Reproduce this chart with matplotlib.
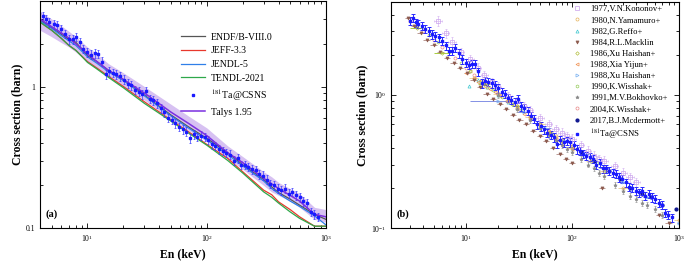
"""
181Ta(n,g) capture cross section: evaluations vs. CSNS data (a), and vs. earlier measurements (b).
"""

import matplotlib
matplotlib.use("Agg")
import matplotlib.pyplot as plt
from matplotlib.ticker import FuncFormatter, LogLocator, NullFormatter

plt.rcParams["font.family"] = ["Liberation Serif", "DejaVu Serif"]
plt.rcParams["mathtext.fontset"] = "stix"

# ---- evaluations (panel a) ----
EVAL_E = [4, 5, 6, 7, 8, 10, 12, 15, 20, 30, 50, 70, 100, 150, 200, 300, 350, 400, 500, 600, 800, 1000]
ENDF = [2.95, 2.6, 2.35, 2.15, 2.05, 1.65, 1.5, 1.3, 1.12, 0.87, 0.63, 0.52, 0.43, 0.34, 0.28, 0.22,
        0.195, 0.178, 0.16, 0.145, 0.125, 0.115]
JEFF = [2.85, 2.5, 2.2, 1.95, 1.8, 1.5, 1.35, 1.18, 1.0, 0.78, 0.58, 0.48, 0.39, 0.31, 0.25, 0.185,
        0.172, 0.153, 0.135, 0.12, 0.103, 0.103]
JENDL = [2.9, 2.58, 2.3, 2.1, 1.95, 1.62, 1.46, 1.27, 1.1, 0.86, 0.62, 0.51, 0.42, 0.33, 0.275, 0.215,
         0.19, 0.175, 0.155, 0.142, 0.122, 0.105]
TENDL = [2.85, 2.5, 2.2, 1.95, 1.8, 1.48, 1.33, 1.16, 0.98, 0.76, 0.57, 0.47, 0.385, 0.30, 0.245, 0.18,
         0.165, 0.15, 0.13, 0.117, 0.103, 0.103]
TALYS = [3.0, 2.65, 2.4, 2.2, 2.0, 1.7, 1.5, 1.3, 1.12, 0.9, 0.66, 0.55, 0.45, 0.34, 0.29, 0.225,
         0.205, 0.19, 0.17, 0.155, 0.125, 0.12]
TALYS_LO = [2.5, 2.25, 2.05, 1.9, 1.75, 1.5, 1.35, 1.17, 1.0, 0.8, 0.59, 0.49, 0.41, 0.31, 0.26, 0.2,
            0.18, 0.17, 0.155, 0.14, 0.115, 0.11]
TALYS_HI = [3.4, 3.0, 2.7, 2.45, 2.25, 1.9, 1.7, 1.45, 1.25, 1.0, 0.75, 0.62, 0.51, 0.38, 0.32, 0.25,
            0.23, 0.21, 0.19, 0.175, 0.14, 0.135]

# ---- 181Ta@CSNS ----
CSNS_E = [3.0, 3.2, 3.4, 3.6, 3.9, 4.2, 4.5, 4.8, 5.2, 5.6, 6.0, 6.5, 7.0, 7.5, 8.0, 8.6, 9.2, 10.0,
          10.7, 11.5, 12.3, 13.2, 14.2, 15.2, 16.3, 17.5, 18.8, 20.2, 21.7, 23.3, 25.0, 26.8, 28.8,
          30.9, 33.2, 35.6, 38.2, 41.0, 44.0, 47.2, 50.7, 54.4, 58.4, 62.7, 67.3, 72.2, 77.5, 83.2,
          89.3, 95.9, 103, 110, 118, 127, 136, 146, 157, 168, 181, 194, 208, 223, 240, 257, 276, 296,
          318, 341, 366, 393, 422, 453, 486, 522, 560, 601, 645, 692, 743, 797, 856]
CSNS_XS = [3.6, 3.8, 3.5, 3.4, 3.3, 3.15, 3.0, 2.85, 2.75, 2.7, 2.55, 2.35, 2.15, 2.15, 2.25, 2.05,
           1.85, 1.75, 1.68, 1.72, 1.70, 1.50, 1.22, 1.28, 1.25, 1.22, 1.18, 1.12, 1.05, 1.02, 0.95,
           0.92, 0.88, 0.93, 0.82, 0.80, 0.76, 0.70, 0.66, 0.60, 0.58, 0.55, 0.52, 0.50, 0.48, 0.43,
           0.46, 0.44, 0.45, 0.44, 0.42, 0.39, 0.38, 0.36, 0.35, 0.34, 0.33, 0.30, 0.31, 0.28, 0.28,
           0.27, 0.26, 0.255, 0.24, 0.235, 0.22, 0.205, 0.20, 0.19, 0.185, 0.19, 0.175, 0.18, 0.17,
           0.165, 0.155, 0.15, 0.13, 0.125, 0.12]
CSNS_REL_ERR = 0.07

# ---- earlier measurements (panel b) ----
KONONOV_E = [5.5, 6.5, 7.5, 9, 11, 13, 15, 17.5, 20, 25, 30, 35, 40, 50, 60, 70, 80, 90, 100, 120,
             140, 160, 180, 200, 250, 300, 350, 400]
KONONOV_XS = [3.6, 2.9, 2.5, 2.1, 1.85, 1.6, 1.4, 1.25, 1.15, 0.98, 0.9, 0.82, 0.77, 0.67, 0.6, 0.55,
              0.52, 0.49, 0.47, 0.42, 0.38, 0.35, 0.33, 0.32, 0.29, 0.26, 0.24, 0.22]
YAMAMURO_E = [12, 16, 20, 25, 30, 40, 50, 60, 70, 80, 100, 150, 200, 300, 1000]
YAMAMURO_XS = [1.35, 1.15, 1.02, 0.9, 0.82, 0.68, 0.6, 0.53, 0.49, 0.45, 0.4, 0.32, 0.27, 0.2, 0.115]
REFFO_E = [10.8, 13, 16, 20, 25, 30, 40, 50, 60, 80, 100, 150, 200]
REFFO_XS = [1.17, 1.3, 1.15, 1.0, 0.88, 0.8, 0.67, 0.58, 0.52, 0.45, 0.4, 0.32, 0.27]
MACKLIN_E = [2.9, 3.3, 3.8, 4.3, 5.0, 5.8, 6.7, 7.7, 8.9, 10.3, 11.9, 13.7, 15.8, 18.2, 21, 24, 28,
             32, 37, 43, 50, 57, 66, 76, 88, 100, 190, 650, 800]
MACKLIN_XS = [3.8, 3.3, 2.9, 2.6, 2.35, 2.1, 1.9, 1.75, 1.6, 1.45, 1.3, 1.15, 1.02, 0.93, 0.85, 0.78,
              0.71, 0.65, 0.6, 0.54, 0.49, 0.45, 0.4, 0.36, 0.33, 0.31, 0.2, 0.125, 0.11]
XU86_E = [3.5, 6.0, 15, 30, 60]
XU86_XERR = [0.5, 1.0, 2.0, 3.0, 5.0]
XU86_XS = [3.2, 2.07, 1.2, 0.82, 0.52]
XIA_E = [10, 11, 12, 13, 14, 15, 17, 19, 21, 24, 27, 30, 35, 40, 50, 60, 70, 80, 100]
XIA_XS = [1.45, 1.5, 1.35, 1.25, 1.3, 1.2, 1.1, 1.05, 0.98, 0.9, 0.85, 0.78, 0.72, 0.66, 0.58, 0.52,
          0.47, 0.43, 0.39]
XU88_E = [20, 35, 55, 85, 130, 200, 300, 500, 1000]
XU88_XERR = [9.0, 5.0, 8.0, 10.0, 15.0, 20.0, 30.0, 40.0, 40.0]
XU88_XS = [0.9, 0.75, 0.56, 0.45, 0.36, 0.28, 0.22, 0.17, 0.11]
WISSHAK90_E = [3.5, 4.5, 5.5, 7, 9, 11, 14, 18, 22, 27, 33, 40, 50, 65, 80, 100, 130, 170, 200]
WISSHAK90_XS = [3.3, 2.8, 2.5, 2.1, 1.75, 1.5, 1.25, 1.08, 0.97, 0.86, 0.77, 0.68, 0.6, 0.51, 0.46,
                0.41, 0.35, 0.31, 0.28]
BOKHOVKO_E = [20, 30, 40, 50, 60, 70, 80, 90, 100, 120, 140, 160, 180, 200, 250, 300, 350, 400, 450,
              500, 600, 700]
BOKHOVKO_XS = [1.0, 0.78, 0.65, 0.56, 0.5, 0.46, 0.42, 0.39, 0.37, 0.33, 0.3, 0.28, 0.26, 0.245,
               0.21, 0.19, 0.175, 0.165, 0.155, 0.15, 0.14, 0.125]
WISSHAK04_E = [3, 4, 5, 6, 8, 10, 12, 15, 20, 25, 30, 40, 50, 60, 80, 100, 150, 200]
WISSHAK04_XS = [3.6, 3.0, 2.6, 2.3, 1.9, 1.6, 1.4, 1.2, 1.02, 0.9, 0.8, 0.68, 0.6, 0.54, 0.46, 0.41,
                0.33, 0.28]
MCDERMOTT_E = [120, 160, 220, 280, 350, 450, 550, 700, 950]
MCDERMOTT_XS = [0.37, 0.32, 0.27, 0.235, 0.2, 0.18, 0.17, 0.15, 0.14]


def style_axes(ax):
    ax.set_xscale("log")
    ax.set_yscale("log")
    ax.tick_params(which="both", direction="in", top=True, right=True, labelsize=5.5, width=0.6)
    ax.tick_params(which="major", length=3.5)
    ax.tick_params(which="minor", length=2)
    ax.xaxis.set_minor_locator(LogLocator(base=10, subs=range(2, 10)))
    ax.xaxis.set_minor_formatter(NullFormatter())
    ax.yaxis.set_minor_formatter(NullFormatter())
    for s in ax.spines.values():
        s.set_linewidth(0.8)
    ax.set_xlabel("En (keV)", fontsize=8.5, fontweight="bold", labelpad=3)
    ax.set_ylabel("Cross section (barn)", fontsize=8.5, fontweight="bold", labelpad=2)


def handle(h):
    # errorbar containers -> just the marker line for the legend
    return h.lines[0] if hasattr(h, "lines") else h


fig = plt.figure(figsize=(6.85, 2.63), dpi=100)
ax1 = fig.add_axes([0.0584, 0.133, 0.4176, 0.862])
ax2 = fig.add_axes([0.571, 0.133, 0.420, 0.860])

# ---- panel (a) ----
ax1.fill_between(EVAL_E, TALYS_LO, TALYS_HI, color="#b68ee8", alpha=0.55, lw=0)
h_endf, = ax1.plot(EVAL_E, ENDF, color="#555555", lw=0.9)
h_jeff, = ax1.plot(EVAL_E, JEFF, color="#e8382c", lw=0.9)
h_jendl, = ax1.plot(EVAL_E, JENDL, color="#2f7fe8", lw=0.9)
h_tendl, = ax1.plot(EVAL_E, TENDL, color="#2ea84a", lw=0.9)
h_csns = ax1.errorbar(CSNS_E, CSNS_XS, yerr=[v * CSNS_REL_ERR for v in CSNS_XS], fmt="s", ms=2,
                      color="#1a1aff", ecolor="#3a3aff", elinewidth=0.5, capsize=1, capthick=0.5)
h_talys, = ax1.plot(EVAL_E, TALYS, color="#7b2fe0", lw=1.1)
style_axes(ax1)
ax1.set_xlim(4, 1000)
ax1.set_ylim(0.1, 4)
ax1.yaxis.set_major_formatter(FuncFormatter(lambda v, p: f"{v:g}"))
ax1.text(0.02, 0.05, "(a)", transform=ax1.transAxes, fontsize=7.5, fontweight="bold")
ax1.legend([h_endf, h_jeff, h_jendl, h_tendl, handle(h_csns), h_talys],
           ["ENDF/B-VIII.0", "JEFF-3.3", "JENDL-5", "TENDL-2021", r"$^{181}$Ta@CSNS", "Talys 1.95"],
           loc="upper left", bbox_to_anchor=(0.493, 0.862), frameon=False, fontsize=7,
           handlelength=2.5, handletextpad=0.6, labelspacing=0.48, borderpad=0, borderaxespad=0)

# ---- panel (b) ----
ms = 2.2
hb = []
hb.append(ax2.errorbar(KONONOV_E, KONONOV_XS, yerr=[v * 0.08 for v in KONONOV_XS],
                       xerr=[e * 0.08 for e in KONONOV_E], fmt="s", mfc="none", mec="#c9a0ec",
                       ms=ms, ecolor="#d7b8f2", elinewidth=0.5, capsize=1, mew=0.5))
hb.append(ax2.errorbar(YAMAMURO_E, YAMAMURO_XS, xerr=[e * 0.1 for e in YAMAMURO_E], fmt="o",
                       mfc="none", mec="#e6b25a", ms=ms, ecolor="#e6c27a", elinewidth=0.5, mew=0.5))
hb.append(ax2.plot(REFFO_E, REFFO_XS, "^", mfc="none", mec="#40c8d0", ms=ms, mew=0.5)[0])
hb.append(ax2.errorbar(MACKLIN_E, MACKLIN_XS, xerr=[e * 0.07 for e in MACKLIN_E], fmt="v",
                       color="#8c5a4e", ms=ms, ecolor="#a07068", elinewidth=0.5, mew=0.5))
hb.append(ax2.errorbar(XU86_E, XU86_XS, xerr=XU86_XERR, fmt="D", mfc="none", mec="#b4c040", ms=1.8,
                       ecolor="#a8cc40", elinewidth=0.7, mew=0.5))
hb.append(ax2.plot(XIA_E, XIA_XS, "<", mfc="none", mec="#f09050", ms=ms, mew=0.5)[0])
hb.append(ax2.errorbar(XU88_E, XU88_XS, xerr=XU88_XERR, fmt=">", mfc="none", mec="#78b0f0", ms=ms,
                       ecolor="#6f7fe0", elinewidth=0.6, mew=0.5))
hb.append(ax2.plot(WISSHAK90_E, WISSHAK90_XS, "h", mfc="none", mec="#98cc60", ms=ms, mew=0.5)[0])
hb.append(ax2.errorbar(BOKHOVKO_E, BOKHOVKO_XS, yerr=[v * 0.05 for v in BOKHOVKO_XS], fmt="*",
                       color="#8a8a8a", ms=2.5, ecolor="#9a9a9a", elinewidth=0.5, capsize=1, mew=0.5))
hb.append(ax2.plot(WISSHAK04_E, WISSHAK04_XS, "o", mfc="none", mec="#e88a8a", ms=ms, mew=0.5)[0])
hb.append(ax2.plot(MCDERMOTT_E, MCDERMOTT_XS, "o", color="#101890", ms=2)[0])
hb.append(ax2.errorbar(CSNS_E, CSNS_XS, yerr=[v * CSNS_REL_ERR for v in CSNS_XS], fmt="s", ms=2,
                       color="#1a1aff", ecolor="#2a2aff", elinewidth=0.7, capsize=1.5,
                       capthick=0.7))
labels_b = ["1977,V.N.Kononov+", "1980,N.Yamamuro+", "1982,G.Reffo+", "1984,R.L.Macklin",
            "1986,Xu Haishan+", "1988,Xia Yijun+", "1988,Xu Haishan+", "1990,K.Wisshak+",
            "1991,M.V.Bokhovko+", "2004,K.Wisshak+", "2017,B.J.Mcdermott+", r"$^{181}$Ta@CSNS"]
style_axes(ax2)
ax2.set_xlim(2, 1000)
ax2.set_ylim(0.1, 5)
ax2.text(0.02, 0.05, "(b)", transform=ax2.transAxes, fontsize=7.5, fontweight="bold")
ax2.legend([handle(h) for h in hb], labels_b, loc="upper left", bbox_to_anchor=(0.628, 0.985),
           frameon=False, fontsize=6.2, handlelength=1.2, handletextpad=0.9, labelspacing=0.36,
           borderpad=0, borderaxespad=0)

fig.savefig("out.png", dpi=100)
